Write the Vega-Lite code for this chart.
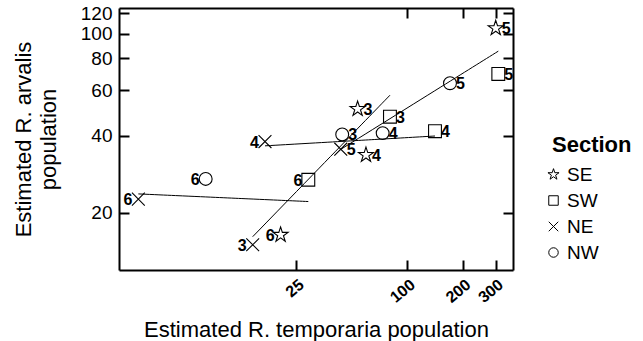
{
  "$schema": "https://vega.github.io/schema/vega-lite/v6.json",
  "width": 394,
  "height": 262,
  "autosize": {"type": "none"},
  "padding": {"left": 119, "top": 8, "right": 130, "bottom": 71},
  "background": "white",
  "config": {"font": "Liberation Sans", "view": {"stroke": null}},
  "data": {
    "values": [
      {"section": "SE", "year": 3, "temporaria": 53.8, "arvalis": 50.8},
      {"section": "SE", "year": 4, "temporaria": 59.7, "arvalis": 33.6},
      {"section": "SE", "year": 5, "temporaria": 300.8, "arvalis": 104.9},
      {"section": "SE", "year": 6, "temporaria": 20.6, "arvalis": 16.4},
      {"section": "SW", "year": 3, "temporaria": 80.5, "arvalis": 47.4},
      {"section": "SW", "year": 4, "temporaria": 141.1, "arvalis": 41.6},
      {"section": "SW", "year": 5, "temporaria": 310.6, "arvalis": 69.6},
      {"section": "SW", "year": 6, "temporaria": 29.1, "arvalis": 26.9},
      {"section": "NE", "year": 3, "temporaria": 14.55, "arvalis": 15.0},
      {"section": "NE", "year": 4, "temporaria": 16.96, "arvalis": 37.9},
      {"section": "NE", "year": 5, "temporaria": 43.6, "arvalis": 35.4},
      {"section": "NE", "year": 6, "temporaria": 3.5, "arvalis": 22.6},
      {"section": "NW", "year": 3, "temporaria": 44.4, "arvalis": 40.4},
      {"section": "NW", "year": 4, "temporaria": 73.5, "arvalis": 40.9},
      {"section": "NW", "year": 5, "temporaria": 170.1, "arvalis": 64.0},
      {"section": "NW", "year": 6, "temporaria": 8.1, "arvalis": 27.1}
    ]
  },
  "layer": [
    {
      "mark": {"type": "point", "filled": false, "color": "black", "strokeWidth": 1.1, "opacity": 1, "size": 165},
      "encoding": {
        "x": {
          "field": "temporaria", "type": "quantitative",
          "scale": {"type": "log", "domain": [2.75, 373], "nice": false},
          "axis": {
            "orient": "bottom", "values": [25, 100, 200, 300], "format": "d",
            "labelAngle": -40, "labelFontSize": 16, "labelFontWeight": "bold", "labelColor": "black",
            "labelFlush": false, "labelOverlap": false, "labelPadding": 16,
            "tickSize": -10, "tickWidth": 2, "tickColor": "black",
            "domainWidth": 2, "domainColor": "black", "grid": false,
            "title": "Estimated R. temporaria population",
            "titleFontSize": 22, "titleFontWeight": "normal", "titleColor": "black", "titlePadding": 14
          }
        },
        "y": {
          "field": "arvalis", "type": "quantitative",
          "scale": {"type": "log", "domain": [11.96, 125.8], "nice": false},
          "axis": {
            "orient": "left", "values": [20, 40, 60, 80, 100, 120], "format": "d",
            "labelFontSize": 19, "labelColor": "black", "labelPadding": 17,
            "labelFlush": false, "labelOverlap": false,
            "tickSize": -10, "tickWidth": 2, "tickColor": "black",
            "domainWidth": 2, "domainColor": "black", "grid": false,
            "title": ["Estimated R. arvalis", "population"],
            "titleFontSize": 22, "titleFontWeight": "normal", "titleColor": "black",
            "titleLineHeight": 25, "titlePadding": 20
          }
        },
        "shape": {
          "field": "section", "type": "nominal",
          "scale": {"domain": ["SE", "SW", "NE", "NW"], "range": ["M0,-1.23L0.276,-0.38L1.17,-0.38L0.447,0.145L0.723,0.995L0,0.47L-0.723,0.995L-0.447,0.145L-1.17,-0.38L-0.276,-0.38Z", "square", "M-1,-1L1,1M1,-1L-1,1", "circle"]},
          "legend": {
            "title": "Section", "orient": "none", "legendX": 433, "legendY": 127,
            "titleFontSize": 22, "titleFontWeight": "bold", "titleColor": "black", "titlePadding": 8,
            "labelFontSize": 19, "labelColor": "black", "labelOffset": 4,
            "symbolSize": 90, "symbolStrokeColor": "black", "symbolStrokeWidth": 1,
            "symbolOffset": -8, "rowPadding": 6, "padding": 0
          }
        }
      }
    },
    {
      "transform": [{"regression": "arvalis", "on": "temporaria", "groupby": ["year"], "method": "pow"}],
      "mark": {"type": "line", "color": "black", "strokeWidth": 1},
      "encoding": {
        "x": {
          "field": "temporaria", "type": "quantitative",
          "axis": {"orient": "top", "values": [100, 200, 300], "labels": false, "tickSize": -10, "tickWidth": 2, "tickColor": "black", "domainWidth": 2, "domainColor": "black", "grid": false, "title": null}
        },
        "y": {
          "field": "arvalis", "type": "quantitative",
          "axis": {"orient": "right", "values": [20, 40, 60, 80, 100, 120], "labels": false, "tickSize": -10, "tickWidth": 2, "tickColor": "black", "domainWidth": 2, "domainColor": "black", "grid": false, "title": null}
        },
        "detail": {"field": "year", "type": "nominal"}
      }
    },
    {
      "transform": [{"filter": "datum.year == 6 || (datum.section == 'NE' && datum.year != 5)"}],
      "mark": {"type": "text", "align": "right", "baseline": "middle", "dx": -6, "dy": 1, "fontSize": 16, "fontWeight": "bold", "color": "black"},
      "encoding": {
        "x": {"field": "temporaria", "type": "quantitative", "axis": null},
        "y": {"field": "arvalis", "type": "quantitative", "axis": null},
        "text": {"field": "year", "type": "nominal"}
      }
    },
    {
      "transform": [{"filter": "!(datum.year == 6 || (datum.section == 'NE' && datum.year != 5))"}],
      "mark": {"type": "text", "align": "left", "baseline": "middle", "dx": 6, "dy": 1, "fontSize": 16, "fontWeight": "bold", "color": "black"},
      "encoding": {
        "x": {"field": "temporaria", "type": "quantitative", "axis": null},
        "y": {"field": "arvalis", "type": "quantitative", "axis": null},
        "text": {"field": "year", "type": "nominal"}
      }
    }
  ]
}
